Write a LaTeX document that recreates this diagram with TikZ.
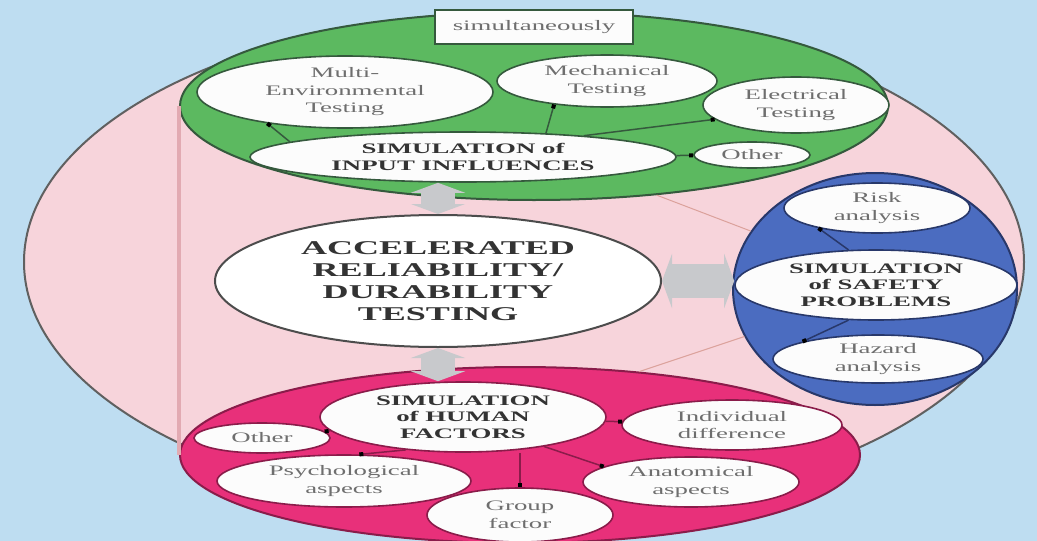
\documentclass[tikz,border=0pt]{standalone}
\usepackage{fontspec}
\setmainfont{Liberation Serif}[FakeStretch=1.85]
\usepackage{tikz}
\usetikzlibrary{arrows.meta,calc,shapes.geometric}

\definecolor{skyblue}{HTML}{BEDDF1}
\definecolor{blush}{HTML}{F7D4DB}
\definecolor{blushline}{HTML}{E2AAB2}
\definecolor{leaf}{HTML}{5CB960}
\definecolor{leafline}{HTML}{35593D}
\definecolor{navy}{HTML}{4B6CC0}
\definecolor{navyline}{HTML}{28386A}
\definecolor{rose}{HTML}{E8307A}
\definecolor{roseline}{HTML}{8A1C4A}
\definecolor{ink}{HTML}{333333}
\definecolor{pencil}{HTML}{6E6E6E}
\definecolor{steel}{HTML}{C8C9CC}

\newcommand\txtsmall{\fontsize{14.5}{17.5}\selectfont}
\newcommand\txtcap{\fontsize{14.5}{16.5}\selectfont\bfseries}
\newcommand\txtbig{\fontsize{19.5}{22}\selectfont\bfseries}

\tikzset{
  zone/.style={ellipse, draw=#1, line width=2pt, inner sep=0pt},
  bubble/.style={ellipse, draw=#1, fill=white!98!gray, line width=1.6pt, inner sep=0pt,
    align=center, text=pencil, font=\txtsmall},
  hub/.style={bubble=#1, text=ink, font=\txtcap},
  link/.style={draw=#1, line width=1.5pt, -{Square[length=4pt,width=4pt,color=black]}},
  pipe/.style={draw=steel, line width=34pt, {Triangle[length=10pt,width=54pt]}-{Triangle[length=10pt,width=54pt]}},
  feeler/.style={draw=blushline!80!brown, line width=1pt}
}

\begin{document}
\begin{tikzpicture}[x=1pt,y=-1pt]
\useasboundingbox (0,0) rectangle (1037,541);
\fill[skyblue] (0,0) rectangle (1037,541);

\node[zone=gray!75!black, fill=blush, minimum width=1000pt, minimum height=500pt] (frame) at (524,262) {};

\node[zone=leafline, fill=leaf, minimum width=708pt, minimum height=188pt] (green) at (534,106) {};
\node[zone=navyline, fill=navy, minimum width=284pt, minimum height=232pt] (blue) at (875,289) {};
\node[zone=roseline, fill=rose, minimum width=680pt, minimum height=176pt] (red) at (520,455) {};

\draw[blushline, line width=4pt] (green.west) -- (green.west |- red.west);
\draw[feeler] (green.324) -- (blue.155);
\draw[feeler] (red.35) -- (blue.200);

\node[draw=leafline, fill=white!98!gray, line width=1.6pt, minimum width=198pt, minimum height=34pt,
  inner sep=0pt, text=pencil, font=\txtsmall] (simul) at (534,27) {simultaneously};
\node[bubble=leafline, minimum width=296pt, minimum height=72pt] (multi) at (345,92) {Multi-\\Environmental\\Testing};
\node[bubble=leafline, minimum width=220pt, minimum height=52pt] (mech) at (607,81) {Mechanical\\Testing};
\node[bubble=leafline, minimum width=186pt, minimum height=56pt] (elec) at (796,105) {Electrical\\Testing};
\node[hub=leafline, minimum width=426pt, minimum height=50pt] (input) at (463,157) {SIMULATION of\\INPUT INFLUENCES};
\node[bubble=leafline, minimum width=116pt, minimum height=26pt] (otherA) at (752,155) {Other};

\draw[link=leafline] (input.175) -- (multi.202);
\draw[link=leafline] (input.16) -- (mech.204);
\draw[link=leafline] (input.10) -- (elec.190);
\draw[link=leafline] (input) -- (otherA);

\node[bubble=navyline, minimum width=186pt, minimum height=50pt] (risk) at (877,208) {Risk\\analysis};
\node[hub=navyline, minimum width=282pt, minimum height=70pt] (safety) at (876,285) {SIMULATION\\of SAFETY\\PROBLEMS};
\node[bubble=navyline, minimum width=210pt, minimum height=48pt] (hazard) at (878,359) {Hazard\\analysis};

\draw[link=navyline] (safety.128) -- (risk.199);
\draw[link=navyline] (safety.232) -- (hazard.167);

\node[hub=roseline, minimum width=286pt, minimum height=70pt] (human) at (463,417) {SIMULATION\\of HUMAN\\FACTORS};
\node[bubble=roseline, minimum width=136pt, minimum height=30pt] (otherB) at (262,438) {Other};
\node[bubble=roseline, minimum width=254pt, minimum height=52pt] (psych) at (344,481) {Psychological\\aspects};
\node[bubble=roseline, minimum width=186pt, minimum height=54pt] (group) at (520,515) {Group\\factor};
\node[bubble=roseline, minimum width=220pt, minimum height=50pt] (indiv) at (732,425) {Individual\\difference};
\node[bubble=roseline, minimum width=216pt, minimum height=50pt] (anat) at (691,482) {Anatomical\\aspects};

\draw[link=roseline] (human) -- (otherB);
\draw[link=roseline] (human.210) -- (psych.60);
\draw[link=roseline] (group.north |- human.south) -- (group.north);
\draw[link=roseline] (human) -- (indiv);
\draw[link=roseline] (human.-20) -- (anat.170);

\node[ellipse, draw=gray!60!black, fill=white, line width=2pt, inner sep=0pt, minimum width=446pt,
  minimum height=132pt, align=center, text=ink, font=\txtbig] (core) at (438,281)
  {ACCELERATED\\RELIABILITY/\\DURABILITY\\TESTING};

\draw[pipe] (core.north |- input.south) -- (core.north);
\draw[pipe] (core.east) -- (core.east -| safety.west);
\draw[pipe] (core.south) -- (core.south |- human.north);
\end{tikzpicture}
\end{document}
